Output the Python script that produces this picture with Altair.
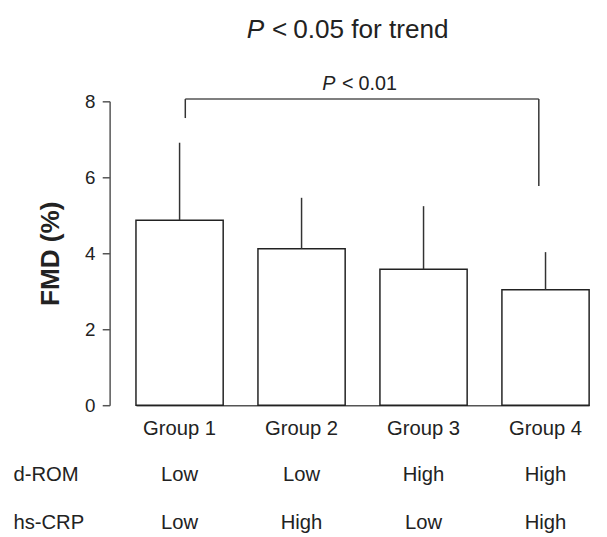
import altair as alt
import pandas as pd

# ---- data ----
groups = ["Group 1", "Group 2", "Group 3", "Group 4"]
fmd_mean = [4.87, 4.12, 3.58, 3.04]
fmd_sd = [2.04, 1.34, 1.66, 0.99]
d_rom = ["Low", "Low", "High", "High"]
hs_crp = ["Low", "High", "Low", "High"]
y_ticks = [0, 2, 4, 6, 8]

bracket_top = [8.06]
bracket_left_bottom = [7.56]
bracket_right_bottom = [5.77]

title_parts = ["P", "<", "0.05 for trend"]
bracket_parts = ["P", "<", "0.01"]
row_names = ["d-ROM", "hs-CRP"]

FONT = "Liberation Sans"
INK = "#222222"
AXC = "#555555"

df = pd.DataFrame({"group": groups, "mean": fmd_mean, "sd": fmd_sd,
                   "drom": d_rom, "hscrp": hs_crp})
br = pd.DataFrame({"g1": [groups[0]], "g4": [groups[-1]], "top": bracket_top,
                   "lb": bracket_left_bottom, "rb": bracket_right_bottom})

xscale = alt.Scale(domain=groups, range=[26.7, 486], paddingInner=0.285, paddingOuter=0)
yscale = alt.Scale(domain=[0, 8], nice=False)

xaxis = alt.Axis(title=None, labelAngle=0, ticks=False, tickSize=0, labelPadding=13.5,
                 labelFontSize=20.5, labelFont=FONT, labelColor=INK,
                 domainColor=AXC, domainWidth=1.5, grid=False)
yaxis = alt.Axis(title="FMD (%)", values=y_ticks, format="d", grid=False,
                 labelFontSize=19, labelFont=FONT, labelColor=INK, labelPadding=7.5,
                 labelFlush=False, tickSize=7.5, tickColor=AXC, tickWidth=1.5,
                 domainColor=AXC, domainWidth=1.5,
                 titleFontSize=26.5, titleFontWeight="bold", titleFont=FONT, titleColor=INK,
                 titleAngle=270, titleX=-60, titleY=154, titleAlign="center",
                 titleBaseline="middle")

base = alt.Chart(df)

bars = base.mark_bar(fill="white", stroke=INK, strokeWidth=1.5).encode(
    x=alt.X("group:N", scale=xscale, sort=groups, axis=xaxis),
    y=alt.Y("mean:Q", scale=yscale, axis=yaxis),
)

errs = base.transform_calculate(top="datum.mean + datum.sd").mark_rule(
    color="#333333", strokeWidth=1.5
).encode(
    x=alt.X("group:N", scale=xscale, sort=groups),
    y=alt.Y("mean:Q", scale=yscale),
    y2="top:Q",
)

bch = alt.Chart(br)
b_h = bch.mark_rule(color="#555555", strokeWidth=1.5, xOffset=5.8, x2Offset=-6.8).encode(
    x=alt.X("g1:N", scale=xscale, sort=groups), x2="g4:N",
    y=alt.Y("top:Q", scale=yscale),
)
b_l = bch.mark_rule(color="#333333", strokeWidth=1.5, xOffset=5.8).encode(
    x=alt.X("g1:N", scale=xscale, sort=groups),
    y=alt.Y("lb:Q", scale=yscale), y2="top:Q",
)
b_r = bch.mark_rule(color="#333333", strokeWidth=1.5, xOffset=-6.8).encode(
    x=alt.X("g4:N", scale=xscale, sort=groups),
    y=alt.Y("rb:Q", scale=yscale), y2="top:Q",
)

def txt(s, x, y, size, style="normal", align="left"):
    return alt.Chart(pd.DataFrame({"t": [s]})).mark_text(
        font=FONT, fontSize=size, fontStyle=style, color=INK,
        align=align, baseline="middle"
    ).encode(text="t:N", x=alt.value(x), y=alt.value(y))

# title pieces (plot origin at page x=111, y=99)
t1 = txt(title_parts[0], 139.0, -72, 26.5, "italic")
t2 = txt(title_parts[1], 164.5, -72, 26.5)
t3 = txt(title_parts[2], 186.0, -72, 26.5)
p1 = txt(bracket_parts[0], 215.5, -17, 20, "italic")
p2 = txt(bracket_parts[1], 235.5, -17, 20)
p3 = txt(bracket_parts[2], 252.3, -17, 20)
r1 = txt(row_names[0], -97.5, 379, 20.5)
r2 = txt(row_names[1], -97.5, 427.5, 20.5)

row_d = base.mark_text(font=FONT, fontSize=20.5, color=INK, baseline="middle").encode(
    x=alt.X("group:N", scale=xscale, sort=groups), y=alt.value(379), text="drom:N")
row_h = base.mark_text(font=FONT, fontSize=20.5, color=INK, baseline="middle").encode(
    x=alt.X("group:N", scale=xscale, sort=groups), y=alt.value(427.5), text="hscrp:N")

chart = alt.layer(bars, errs, b_h, b_l, b_r, t1, t2, t3, p1, p2, p3,
                  r1, r2, row_d, row_h).properties(
    width=496, height=308,
    autosize=alt.AutoSizeParams(type="none"),
    padding={"left": 103, "top": 91, "right": 0, "bottom": 131},
).configure(background="white", view=alt.ViewConfig(stroke=None))

chart.save("out.html", embed_options={"renderer": "svg", "actions": False})
